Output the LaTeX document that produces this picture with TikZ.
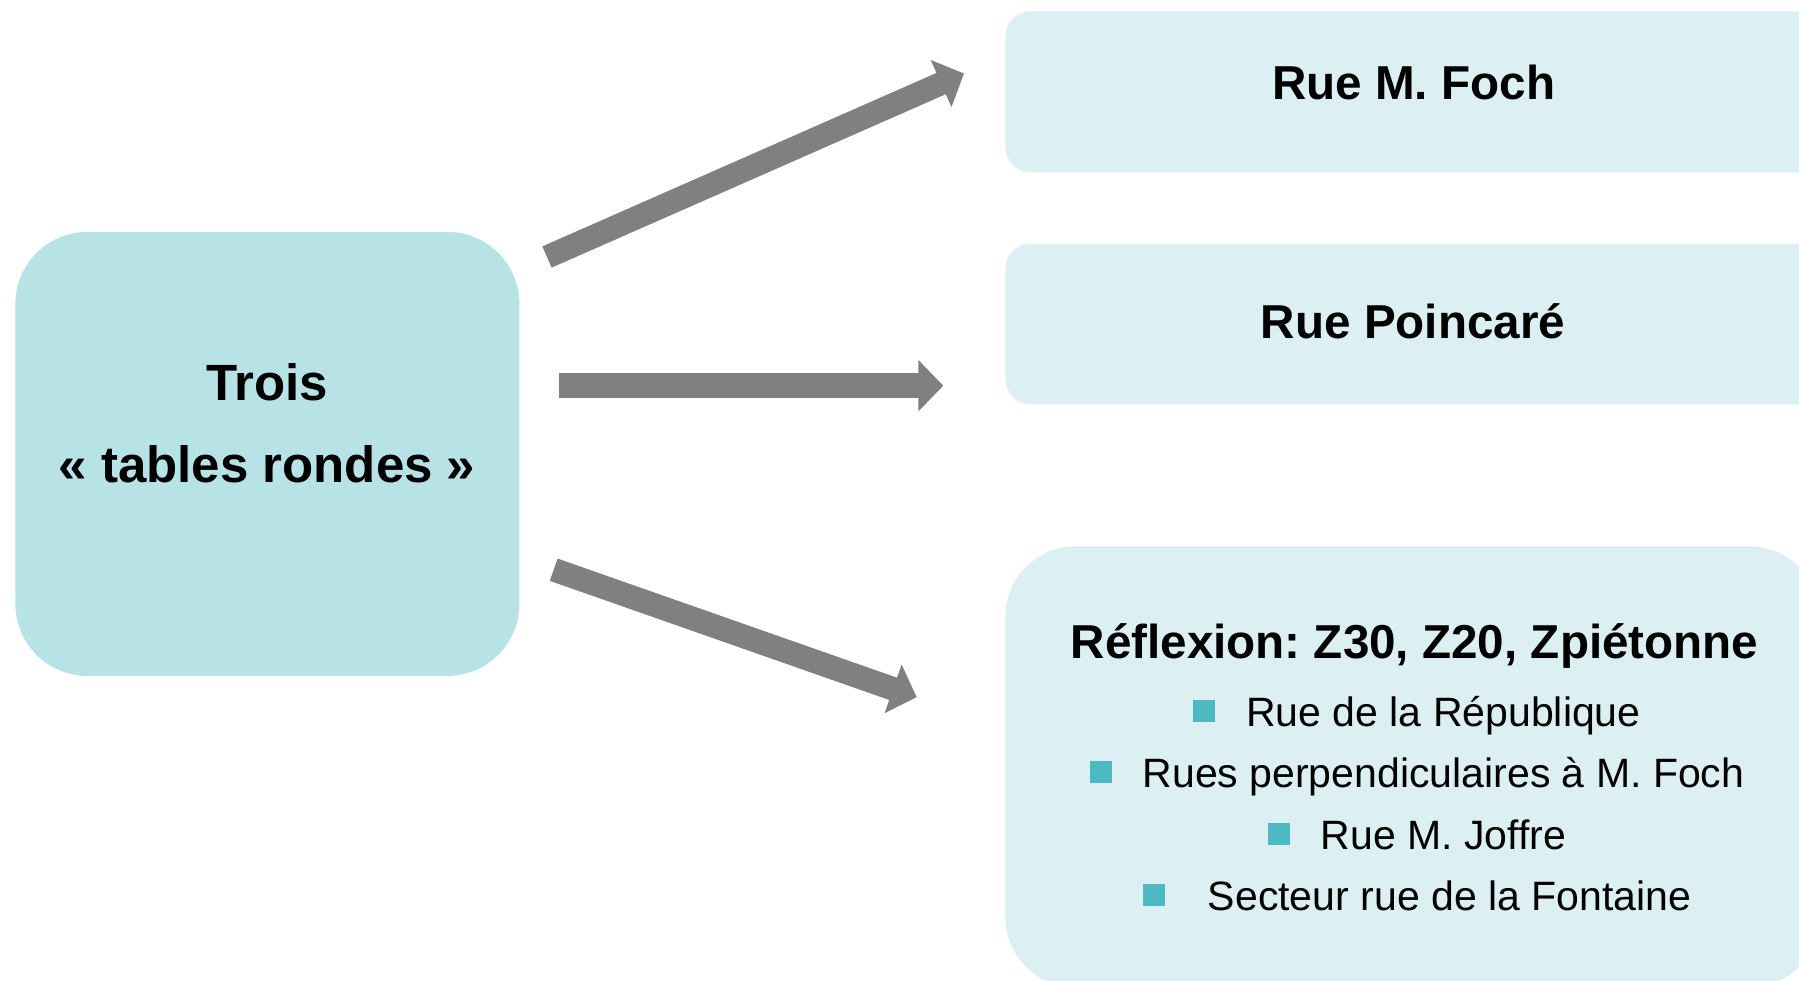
\documentclass[tikz,border=0pt]{standalone}
\usepackage{fontspec}
\setmainfont{Liberation Sans}
\usetikzlibrary{arrows.meta}
\definecolor{leftfill}{HTML}{B7E3E7}
\definecolor{rightfill}{HTML}{DCF0F3}
\definecolor{bul}{HTML}{4DBAC3}
\definecolor{arrowgray}{HTML}{808080}
\newcommand{\bsq}{\textcolor{bul}{\rule[2.2pt]{11pt}{11pt}}}
\frenchspacing
\begin{document}
\begin{tikzpicture}[x=0.5pt,y=-0.5pt,
  boxnode/.style={rectangle, draw=none, inner sep=0pt, anchor=north west},
  lefttxt/.style={inner sep=0pt, anchor=base, font=\bfseries\fontsize{25.5}{30}\selectfont},
  titletxt/.style={inner sep=0pt, anchor=base, font=\bfseries\fontsize{23.8}{28}\selectfont},
  itemtxt/.style={inner sep=0pt, anchor=base, font=\fontsize{20.5}{24}\selectfont},
  bigarrow/.style={draw=arrowgray, -{Triangle[length=12.5pt,width=25pt]}}
]
\useasboundingbox (0,0) rectangle (1799,980);
\clip (0,0) rectangle (1799,980);
\fill[white] (0,0) rectangle (1799,980);

% boxes
\node[boxnode, fill=leftfill, minimum width=252pt, minimum height=222pt, rounded corners=36pt] (left) at (15,231.5) {};
\node[boxnode, fill=rightfill, minimum width=420pt, minimum height=80.5pt, rounded corners=12.5pt] (foch) at (1005,11) {};
\node[boxnode, fill=rightfill, minimum width=420pt, minimum height=80.2pt, rounded corners=12.5pt] (poinc) at (1005,243.5) {};
\node[boxnode, fill=rightfill, minimum width=407pt, minimum height=220.5pt, rounded corners=35pt] (refl) at (1005,546) {};

% texts
\node[lefttxt] (t1) at (267,400) {Trois};
\node[lefttxt] (t2) at (267,482) {« tables rondes »};
\node[titletxt] (tfoch) at (1413.7,99) {Rue M. Foch};
\node[titletxt] (tpoinc) at (1413,338.7) {Rue Poincaré};
\node[titletxt] (trefl) at (1414.5,658) {Réflexion: Z30, Z20, Zpiétonne};
\node[itemtxt] (i1) at (1417,726) {\bsq\hspace{15.5pt}Rue de la République};
\node[itemtxt] (i2) at (1417,787.5) {\bsq\hspace{15.5pt}Rues perpendiculaires à M. Foch};
\node[itemtxt] (i3) at (1417,849) {\bsq\hspace{15.5pt}Rue M. Joffre};
\node[itemtxt] (i4) at (1417,910.5) {\bsq\hspace{21.5pt}Secteur rue de la Fontaine};

% arrow end points
\coordinate (a1s) at (547,257);
\coordinate (a1e) at (964,73.5);
\coordinate (a2s) at (559.3,385.7);
\coordinate (a2e) at (943.3,385.7);
\coordinate (a3s) at (553.7,569.7);
\coordinate (a3e) at (916.7,697.1);

\draw[bigarrow, line width=11.6pt] (a1s) -- (a1e);
\draw[bigarrow, line width=12.6pt] (a2s) -- (a2e);
\draw[bigarrow, line width=11.8pt] (a3s) -- (a3e);
\end{tikzpicture}
\end{document}
